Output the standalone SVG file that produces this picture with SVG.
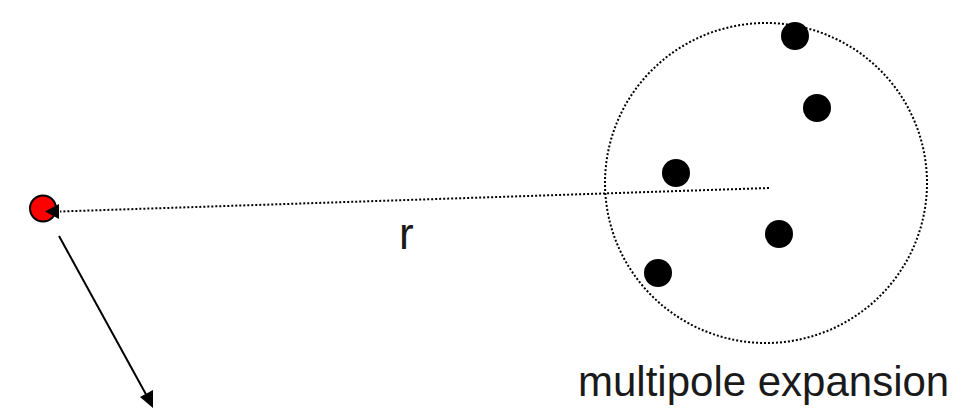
<svg xmlns="http://www.w3.org/2000/svg" width="953" height="414" viewBox="0 0 953 414">
<style>
.dot{fill:#000}
.dotted{fill:none;stroke:#000;stroke-width:2;stroke-dasharray:2 2}
.lbl{font-family:"Liberation Sans",Arial,sans-serif;fill:#1a1a1a}
</style>
<g id="expansion-region">
<ellipse class="dotted" cx="766" cy="183" rx="161" ry="160"/>
</g>
<g id="particles">
<circle class="dot" cx="795" cy="36" r="14"/>
<circle class="dot" cx="817" cy="108" r="14"/>
<circle class="dot" cx="676" cy="173" r="14"/>
<circle class="dot" cx="779" cy="234" r="14"/>
<circle class="dot" cx="658" cy="273" r="14"/>
</g>
<g id="target">
<circle cx="43" cy="208.5" r="13" fill="#f00" stroke="#000" stroke-width="2"/>
</g>
<g id="connectors">
<line class="dotted" x1="769" y1="188" x2="60" y2="211.5"/>
<path d="M45,211.5 L59,204 L59,219 z" fill="#000"/>
<line x1="59" y1="236" x2="148" y2="398" stroke="#000" stroke-width="2"/>
<path d="M153,408 L140,397 L153,390 z" fill="#000"/>
</g>
<text class="lbl" x="399" y="249" font-size="44">r</text>
<text class="lbl" x="578" y="396" font-size="42">multipole expansion</text>
</svg>
